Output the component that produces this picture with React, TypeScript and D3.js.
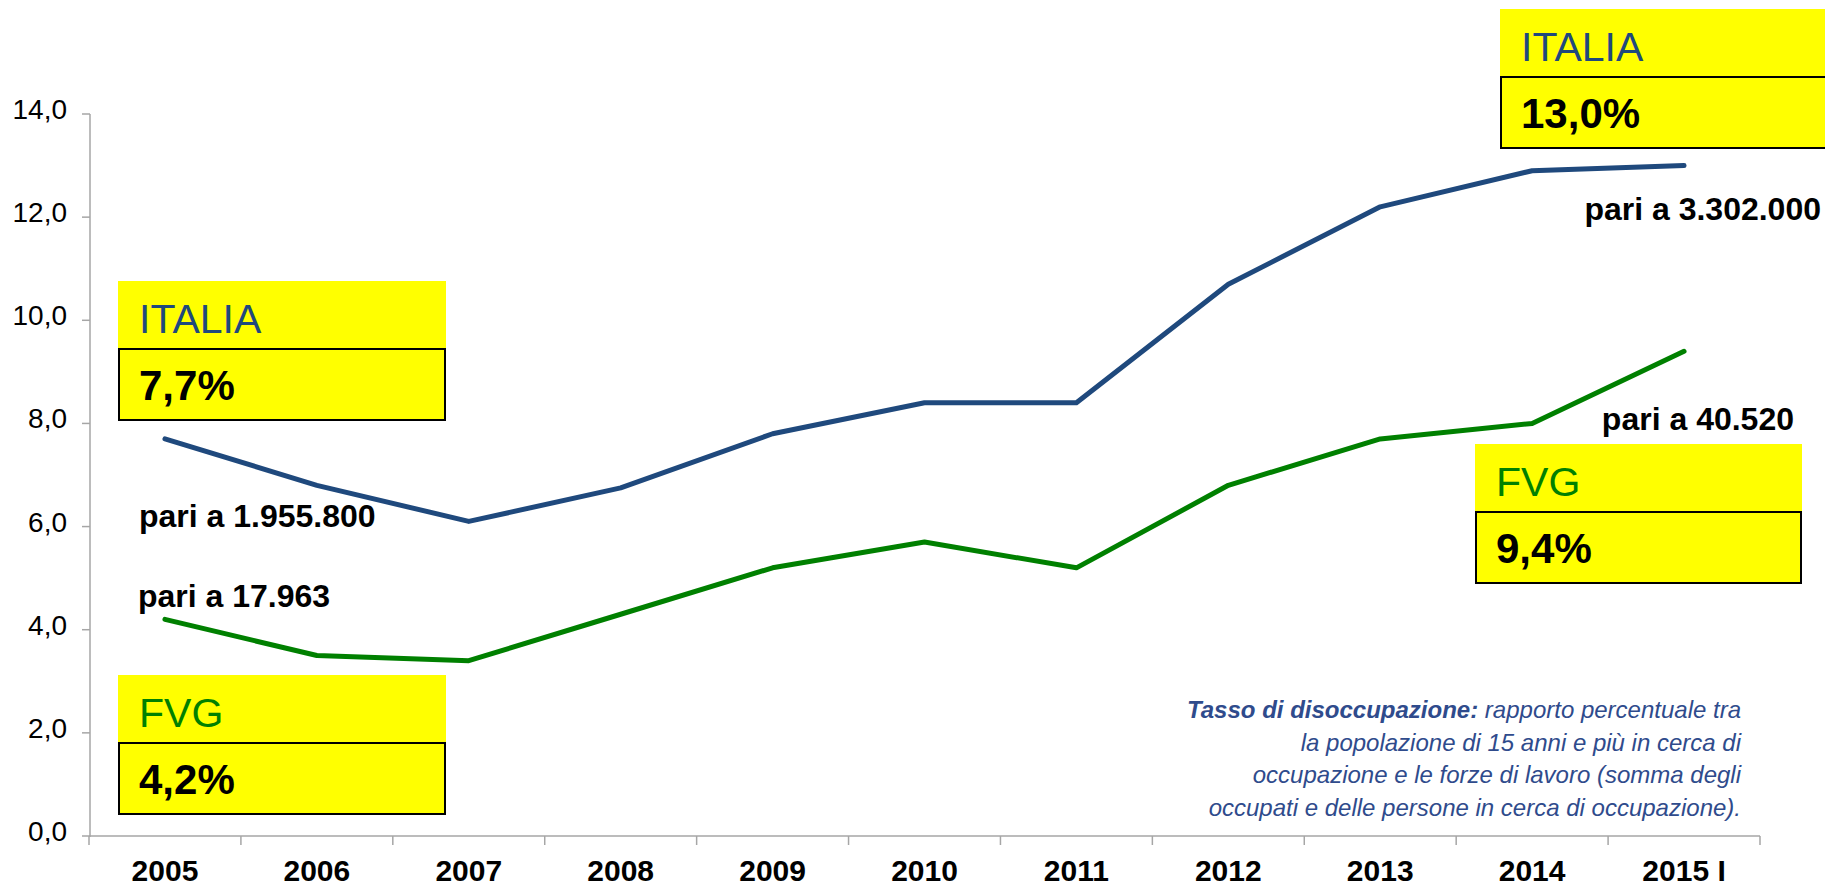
import React from 'react';
import * as d3 from 'd3';

const years = ['2005', '2006', '2007', '2008', '2009', '2010', '2011', '2012', '2013', '2014', '2015 I'];
const italia = [7.7, 6.8, 6.1, 6.75, 7.8, 8.4, 8.4, 10.7, 12.2, 12.9, 13.0];
const fvg = [4.2, 3.5, 3.4, 4.3, 5.2, 5.7, 5.2, 6.8, 7.7, 8.0, 9.4];
const yTicks = [0, 2, 4, 6, 8, 10, 12, 14];

const noteLines = [
  'la popolazione di 15 anni e più in cerca di',
  'occupazione e le forze di lavoro (somma degli',
  'occupati e delle persone in cerca di occupazione).',
];

const W = 1825;
const H = 885;
const BLUE = '#1F497D';
const GREEN = '#008000';
const YELLOW = '#FFFF00';
const AXIS = '#A6A6A6';
const FONT = 'Arial, "Liberation Sans", sans-serif';

// box with a plain yellow header and a bordered value row
const Badge = ({ x, y, w, label, value, color }) => (
  <g transform={`translate(${x},${y})`}>
    <rect x={0} y={0} width={w} height={68} fill={YELLOW} />
    <rect x={1} y={68} width={w - 2} height={71} fill={YELLOW} stroke="#000" strokeWidth={2} />
    <text x={21} y={52} fontSize={41} fill={color}>{label}</text>
    <text x={21} y={119} fontSize={42} fontWeight="bold" fill="#000">{value}</text>
  </g>
);

export default function App() {
  const x = d3.scaleBand().domain(years).range([89, 1760]);
  const y = d3.scaleLinear().domain([0, 14]).range([836, 114]);
  const cx = (d: string) => (x(d) as number) + x.bandwidth() / 2;

  const line = d3
    .line<number>()
    .x((_, i) => cx(years[i]))
    .y((d) => y(d));

  const bounds = years.map((d) => x(d) as number).concat([1760]);

  return (
    <svg
      width={W}
      height={H}
      style={{ position: 'absolute', left: 0, top: 0, background: '#fff' }}
      fontFamily={FONT}
    >
      {/* y axis */}
      <line x1={90} x2={90} y1={y(14)} y2={y(0) + 1} stroke={AXIS} strokeWidth={1.5} />
      {yTicks.map((t) => (
        <g key={t}>
          <line x1={82} x2={90} y1={y(t)} y2={y(t)} stroke={AXIS} strokeWidth={1.5} />
          <text x={67} y={y(t) + 5} textAnchor="end" fontSize={28} fill="#000">
            {d3.format('.1f')(t).replace('.', ',')}
          </text>
        </g>
      ))}

      {/* x axis */}
      <line x1={89} x2={1760} y1={y(0)} y2={y(0)} stroke={AXIS} strokeWidth={1.5} />
      {bounds.map((b, i) => (
        <line key={i} x1={b} x2={b} y1={y(0)} y2={y(0) + 9} stroke={AXIS} strokeWidth={1.5} />
      ))}
      {years.map((d) => (
        <text key={d} x={cx(d)} y={881} textAnchor="middle" fontSize={30} fontWeight="bold" fill="#000">
          {d}
        </text>
      ))}

      {/* series */}
      <path d={line(italia) as string} fill="none" stroke={BLUE} strokeWidth={5} strokeLinejoin="round" strokeLinecap="round" />
      <path d={line(fvg) as string} fill="none" stroke={GREEN} strokeWidth={5} strokeLinejoin="round" strokeLinecap="round" />

      {/* call-outs */}
      <Badge x={118} y={281} w={328} label="ITALIA" value="7,7%" color={BLUE} />
      <Badge x={118} y={675} w={328} label="FVG" value="4,2%" color={GREEN} />
      <Badge x={1500} y={9} w={330} label="ITALIA" value="13,0%" color={BLUE} />
      <Badge x={1475} y={444} w={327} label="FVG" value="9,4%" color={GREEN} />

      <text x={139} y={527} fontSize={32} fontWeight="bold" fill="#000">pari a 1.955.800</text>
      <text x={138} y={607} fontSize={32} fontWeight="bold" fill="#000">pari a 17.963</text>
      <text x={1821} y={220} textAnchor="end" fontSize={32} fontWeight="bold" fill="#000">pari a 3.302.000</text>
      <text x={1794} y={430} textAnchor="end" fontSize={32} fontWeight="bold" fill="#000">pari a 40.520</text>

      {/* definition note */}
      <g fill="#2F4B8C" fontSize={24} fontStyle="italic" textAnchor="end">
        <text x={1741} y={718}>
          <tspan fontWeight="bold">Tasso di disoccupazione:</tspan>
          <tspan> rapporto percentuale tra</tspan>
        </text>
        {noteLines.map((l, i) => (
          <text key={i} x={1741} y={750.6 + i * 32.6}>{l}</text>
        ))}
      </g>
    </svg>
  );
}
